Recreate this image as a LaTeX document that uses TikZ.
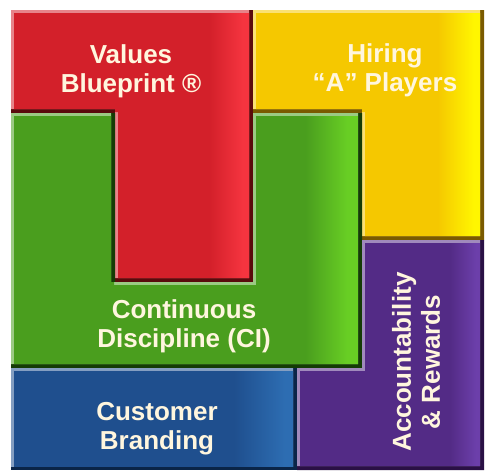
\documentclass[tikz,border=0pt]{standalone}
\usepackage{fontspec}
\setmainfont{Liberation Sans}
\usepackage{xcolor}

% piece colours: face, bright right edge, dark shadow edge
\definecolor{redbase}{HTML}{D3202A}
\definecolor{redlight}{HTML}{F5343F}
\definecolor{redshadow}{HTML}{5A0A0C}
\definecolor{yelbase}{HTML}{F5C800}
\definecolor{yellight}{HTML}{FFF600}
\definecolor{yelshadow}{HTML}{7A5A00}
\definecolor{grnbase}{HTML}{4A9E1E}
\definecolor{grnlight}{HTML}{68CE24}
\definecolor{grnshadow}{HTML}{143C05}
\definecolor{purbase}{HTML}{532B86}
\definecolor{purlight}{HTML}{6C3FAA}
\definecolor{purshadow}{HTML}{2A1045}
\definecolor{bluebase}{HTML}{1F4F8E}
\definecolor{bluelight}{HTML}{2D6DB2}
\definecolor{blueshadow}{HTML}{0A2548}
\definecolor{piecelabel}{HTML}{FFF6DE}

\pgfdeclarehorizontalshading{redface}{100bp}{color(0bp)=(redbase); color(66bp)=(redbase); color(73bp)=(redlight); color(100bp)=(redlight)}
\pgfdeclarehorizontalshading{yelface}{100bp}{color(0bp)=(yelbase); color(65bp)=(yelbase); color(73bp)=(yellight); color(100bp)=(yellight)}
\pgfdeclarehorizontalshading{grnface}{100bp}{color(0bp)=(grnbase); color(67bp)=(grnbase); color(73bp)=(grnlight); color(100bp)=(grnlight)}
\pgfdeclarehorizontalshading{purface}{100bp}{color(0bp)=(purbase); color(66bp)=(purbase); color(73bp)=(purlight); color(100bp)=(purlight)}
\pgfdeclarehorizontalshading{blueface}{100bp}{color(0bp)=(bluebase); color(64bp)=(bluebase); color(73bp)=(bluelight); color(100bp)=(bluelight)}

\tikzset{
    piece/.style={fill=#1shadow},
    rim/.style={fill=#1base!55!white},
    face/.style={shading=#1face},
    piecetext/.style={text=piecelabel, font=\bfseries\fontsize{26}{29}\selectfont, align=center}
}

\begin{document}
\begin{tikzpicture}[x=1pt, y=-1pt]

\fill[white] (0,0) rectangle (485,472);
\useasboundingbox (0,0) rectangle (485,472);

% Values Blueprint (red)
\fill[piece=red] (11,10) -- (253,10) -- (253,282) -- (115,282) -- (115,113) -- (11,113) -- cycle;
\begin{scope}
    \clip (11,10) -- (249,10) -- (249,278) -- (115,278) -- (115,109) -- (11,109) -- cycle;
    \fill[rim=red] (0,0) rectangle (485,472);
    \shade[face=red, shift={(3,3)}] (11,10) -- (249,10) -- (249,278) -- (115,278) -- (115,109) -- (11,109) -- cycle;
\end{scope}

% Hiring "A" Players (yellow)
\fill[piece=yel] (253,10) -- (484,10) -- (484,240) -- (362,240) -- (362,113) -- (253,113) -- cycle;
\begin{scope}
    \clip (253,10) -- (480,10) -- (480,236) -- (362,236) -- (362,109) -- (253,109) -- cycle;
    \fill[rim=yel] (0,0) rectangle (485,472);
    \shade[face=yel, shift={(3,3)}] (253,10) -- (480,10) -- (480,236) -- (362,236) -- (362,109) -- (253,109) -- cycle;
\end{scope}

% Continuous Discipline (green U)
\fill[piece=grn] (11,113) -- (115,113) -- (115,282) -- (253,282) -- (253,113) -- (362,113) -- (362,368) -- (11,368) -- cycle;
\begin{scope}
    \clip (11,113) -- (111,113) -- (111,282) -- (253,282) -- (253,113) -- (358,113) -- (358,364) -- (11,364) -- cycle;
    \fill[rim=grn] (0,0) rectangle (485,472);
    \shade[face=grn, shift={(3,3)}] (11,113) -- (111,113) -- (111,282) -- (253,282) -- (253,113) -- (358,113) -- (358,364) -- (11,364) -- cycle;
\end{scope}

% Accountability & Rewards (purple)
\fill[piece=pur] (362,240) -- (484,240) -- (484,470) -- (297,470) -- (297,368) -- (362,368) -- cycle;
\begin{scope}
    \clip (362,240) -- (480,240) -- (480,466) -- (297,466) -- (297,368) -- (362,368) -- cycle;
    \fill[rim=pur] (0,0) rectangle (485,472);
    \shade[face=pur, shift={(3,3)}] (362,240) -- (480,240) -- (480,466) -- (297,466) -- (297,368) -- (362,368) -- cycle;
\end{scope}

% Customer Branding (blue)
\fill[piece=blue] (11,368) rectangle (297,470);
\begin{scope}
    \clip (11,368) rectangle (293,466);
    \fill[rim=blue] (0,0) rectangle (485,472);
    \shade[face=blue, shift={(3,3)}] (11,368) rectangle (293,466);
\end{scope}

% labels
\node[piecetext] (values) at (131,71) {Values\\Blueprint ®};
\node[piecetext] (hiring) at (385,70) {Hiring\\“A” Players};
\node[piecetext] (discipline) at (184,326) {Continuous\\Discipline (CI)};
\node[piecetext] (branding) at (157,429) {Customer\\Branding};
\node[piecetext, rotate=90] (rewards) at (416,362) {Accountability\\\& Rewards};

\end{tikzpicture}
\end{document}
